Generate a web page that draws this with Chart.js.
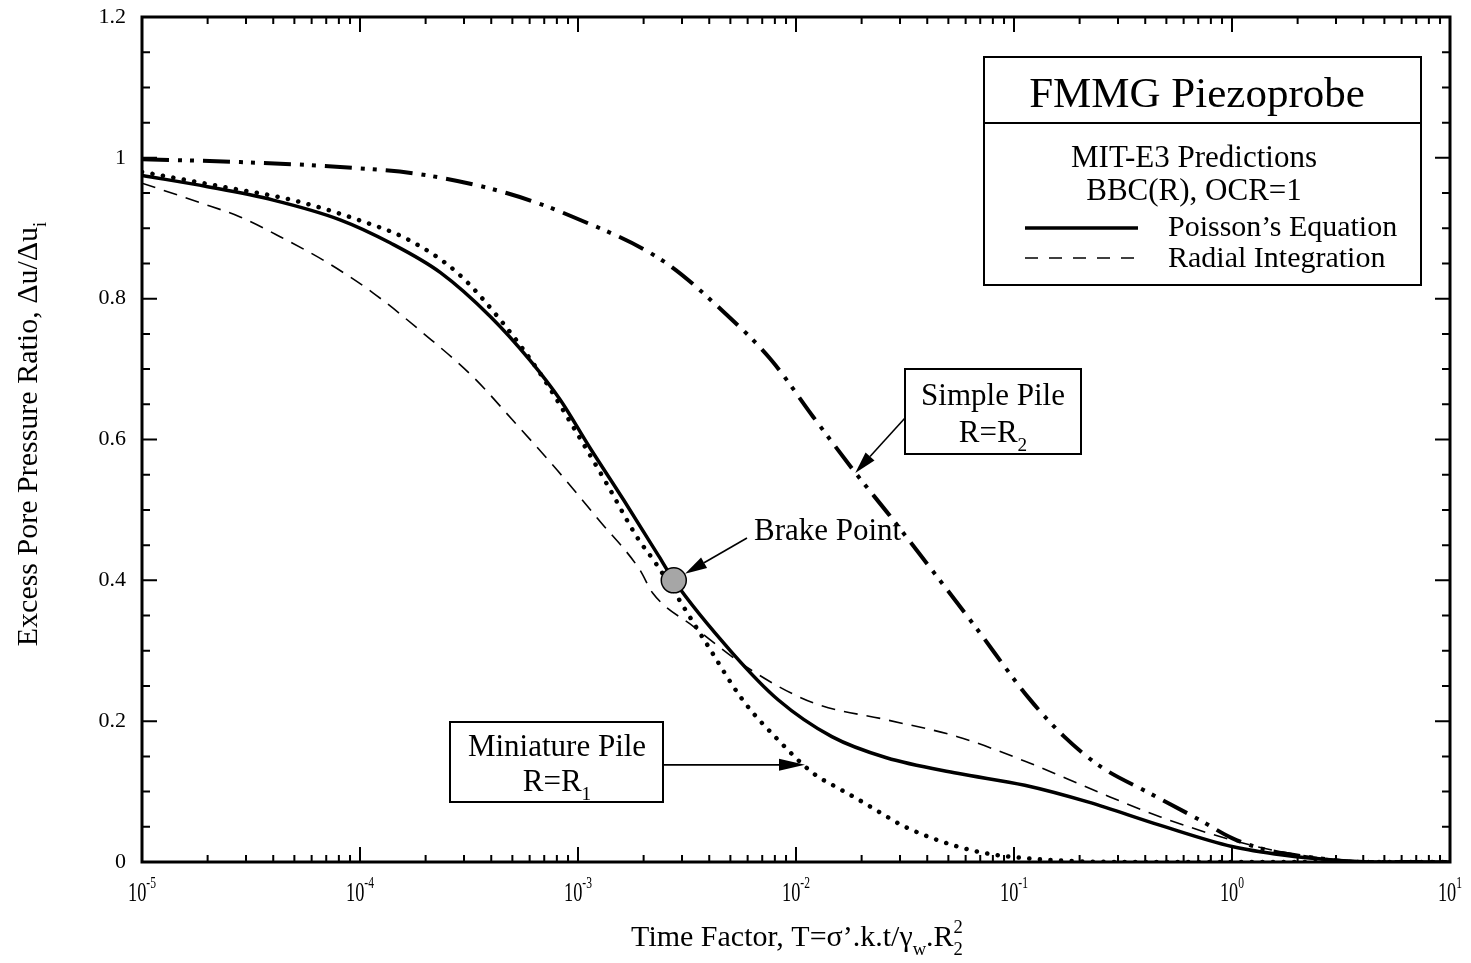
<!DOCTYPE html>
<html>
<head>
<meta charset="utf-8">
<script src="https://cdn.jsdelivr.net/npm/chart.js@4.4.1/dist/chart.umd.min.js"></script>
<style>
  html, body { margin: 0; padding: 0; background: #fff; }
  #wrap { width: 1471px; height: 963px; }
</style>
</head>
<body>
<div id="wrap"><canvas id="c" width="1471" height="963"></canvas></div>
<script>
// Time factor T (x) and excess pore pressure ratio Δu/Δu_i (y) for each curve
const poissonT     = [1e-5, 2.0e-5, 4.0e-5, 8.1e-5, 1.38e-4, 2.34e-4, 3.98e-4, 6.0e-4, 8.3e-4, 1.13e-3, 1.62e-3, 2.34e-3, 2.75e-3, 5.1e-3, 8.3e-3, 1.46e-2, 2.6e-2, 5.5e-2, 0.112, 0.22, 0.47, 1.0, 1.71, 2.9, 4.7, 10];
const poissonRatio = [0.975, 0.959, 0.940, 0.912, 0.879, 0.837, 0.774, 0.713, 0.656, 0.589, 0.514, 0.435, 0.400, 0.297, 0.230, 0.178, 0.148, 0.126, 0.109, 0.085, 0.052, 0.022, 0.010, 0.003, 0, 0];

const radialT      = [1e-5, 1.86e-5, 2.82e-5, 4.3e-5, 7.1e-5, 1.15e-4, 1.95e-4, 3.3e-4, 5.0e-4, 8.0e-4, 1.26e-3, 1.92e-3, 2.2e-3, 3.4e-3, 6.2e-3, 1.2e-2, 2.6e-2, 5.5e-2, 0.117, 0.245, 0.47, 1.0, 1.71, 2.9, 5.0, 10];
const radialRatio  = [0.964, 0.936, 0.916, 0.888, 0.851, 0.808, 0.751, 0.689, 0.628, 0.557, 0.484, 0.415, 0.382, 0.334, 0.273, 0.226, 0.202, 0.178, 0.141, 0.099, 0.064, 0.031, 0.014, 0.004, 0, 0];

const miniatureT     = [1e-5, 2.34e-5, 4.9e-5, 9.8e-5, 1.66e-4, 2.79e-4, 4.4e-4, 6.7e-4, 9.5e-4, 1.35e-3, 1.86e-3, 2.3e-3, 3.8e-3, 5.7e-3, 8.3e-3, 1.2e-2, 1.58e-2, 1.9e-2, 2.5e-2, 3.16e-2, 5.5e-2, 7.9e-2, 0.117, 0.2, 0.32, 10];
const miniatureRatio = [0.980, 0.959, 0.940, 0.912, 0.884, 0.837, 0.770, 0.694, 0.618, 0.538, 0.462, 0.422, 0.315, 0.230, 0.173, 0.126, 0.104, 0.090, 0.068, 0.050, 0.022, 0.011, 0.005, 0.001, 0, 0];

const simpleT      = [1e-5, 2.82e-5, 8.1e-5, 1.95e-4, 4.7e-4, 9.5e-4, 2.5e-3, 4.7e-3, 7.7e-3, 1.2e-2, 1.87e-2, 2.69e-2, 3.72e-2, 6.61e-2, 0.1175, 0.17, 0.251, 0.417, 0.708, 1.0, 1.41, 2.4, 3.98, 10];
const simpleRatio  = [0.998, 0.994, 0.987, 0.976, 0.950, 0.916, 0.852, 0.780, 0.713, 0.632, 0.553, 0.492, 0.436, 0.335, 0.232, 0.178, 0.135, 0.098, 0.060, 0.034, 0.018, 0.006, 0, 0];

// Break point on the Poisson's equation curve, and where the pile call-outs point
const brakeT = [2.75e-3];
const brakeRatio = [0.40];
const simplePileTip = { x: 0.0187, y: 0.5526 };
const miniaturePileTip = { x: 0.011, y: 0.138 };

// Axis ticks and labels
const xDecades   = [1e-5, 1e-4, 1e-3, 1e-2, 1e-1, 1, 10];
const xExponents = ['-5', '-4', '-3', '-2', '-1', '0', '1'];
const yMajorTicks  = [0, 0.2, 0.4, 0.6, 0.8, 1.0, 1.2];
const yTickLabels  = ['0', '0.2', '0.4', '0.6', '0.8', '1', '1.2'];

const SERIF = '"Liberation Serif", "Times New Roman", serif';
const font = s => `${s}px ${SERIF}`;

const xMinorTicks = [];
xDecades.slice(0, -1).forEach(d => { for (let m = 2; m <= 9; m++) xMinorTicks.push(d * m); });
const yMinorTicks = [];
for (let k = 1; k < 24; k++) if (k % 4 !== 0) yMinorTicks.push(k * 0.05);

const pts = (xs, ys) => xs.map((t, i) => ({ x: t, y: ys[i] }));

// Text with subscripts / superscripts: parts = [[text, kind, extra]]
function richText(ctx, parts, x, y, size, align, rotate) {
  const small = size * 0.62;
  const items = parts.map(([t, k, t2]) => {
    ctx.font = font(k === 'n' ? size : small);
    let w = ctx.measureText(t).width;
    if (k === 'subsup') w = Math.max(w, ctx.measureText(t2).width);
    return { t, k, t2, w };
  });
  const total = items.reduce((s, i) => s + i.w, 0);
  ctx.save();
  ctx.translate(x, y);
  if (rotate) ctx.rotate(rotate);
  ctx.textAlign = 'left';
  ctx.textBaseline = 'alphabetic';
  let cx = align === 'center' ? -total / 2 : align === 'right' ? -total : 0;
  items.forEach(i => {
    if (i.k === 'n') { ctx.font = font(size); ctx.fillText(i.t, cx, 0); }
    else {
      ctx.font = font(small);
      if (i.k === 'sub' || i.k === 'subsup') ctx.fillText(i.t, cx, size * 0.3);
      if (i.k === 'sup') ctx.fillText(i.t, cx, -size * 0.42);
      if (i.k === 'subsup') ctx.fillText(i.t2, cx, -size * 0.42);
    }
    cx += i.w;
  });
  ctx.restore();
}

function arrow(ctx, x1, y1, x2, y2, head, half) {
  const ang = Math.atan2(y2 - y1, x2 - x1);
  const bx = x2 - head * Math.cos(ang), by = y2 - head * Math.sin(ang);
  ctx.beginPath();
  ctx.lineWidth = 1.6;
  ctx.moveTo(x1, y1);
  ctx.lineTo(bx, by);
  ctx.stroke();
  ctx.beginPath();
  ctx.moveTo(x2, y2);
  ctx.lineTo(bx + half * Math.sin(ang), by - half * Math.cos(ang));
  ctx.lineTo(bx - half * Math.sin(ang), by + half * Math.cos(ang));
  ctx.closePath();
  ctx.fill();
}

const decorations = {
  id: 'decorations',
  afterDatasetsDraw(chart) {
    const { ctx, chartArea: a, scales: { x, y } } = chart;
    ctx.save();
    ctx.strokeStyle = '#000';
    ctx.fillStyle = '#000';

    // inward ticks on all four sides
    ctx.lineWidth = 2;
    ctx.beginPath();
    const xt = (v, len) => {
      const p = x.getPixelForValue(v);
      ctx.moveTo(p, a.bottom); ctx.lineTo(p, a.bottom - len);
      ctx.moveTo(p, a.top); ctx.lineTo(p, a.top + len);
    };
    const yt = (v, len) => {
      const p = y.getPixelForValue(v);
      ctx.moveTo(a.left, p); ctx.lineTo(a.left + len, p);
      ctx.moveTo(a.right, p); ctx.lineTo(a.right - len, p);
    };
    xMinorTicks.forEach(v => xt(v, 7));
    xDecades.forEach(v => xt(v, 15));
    yMinorTicks.forEach(v => yt(v, 8));
    yMajorTicks.forEach(v => yt(v, 15));
    ctx.stroke();

    // frame
    ctx.lineWidth = 3;
    ctx.strokeRect(a.left, a.top, a.width, a.height);

    // x tick labels: 10 with exponent
    xDecades.forEach((v, i) => {
      const p = x.getPixelForValue(v);
      const sx = 0.68;
      ctx.font = font(27);
      const w10 = ctx.measureText('10').width * sx;
      ctx.font = font(17);
      const we = ctx.measureText(xExponents[i]).width * sx;
      const start = p - (w10 + we) / 2;
      ctx.save();
      ctx.translate(start, a.bottom + 39);
      ctx.scale(sx, 1);
      ctx.textAlign = 'left';
      ctx.textBaseline = 'alphabetic';
      ctx.font = font(27);
      ctx.fillText('10', 0, 0);
      ctx.font = font(17);
      ctx.fillText(xExponents[i], w10 / sx, -13);
      ctx.restore();
    });

    // axis titles
    richText(ctx, [['Time Factor, T=σ’.k.t/γ', 'n'], ['w', 'sub'], ['.R', 'n'], ['2', 'subsup', '2']],
      (a.left + a.right) / 2 + 1, 946, 30, 'center');
    richText(ctx, [['Excess Pore Pressure Ratio, Δu/Δu', 'n'], ['i', 'sub']],
      37, 434, 30, 'center', -Math.PI / 2);

    // call-out: simple pile
    ctx.lineWidth = 2;
    ctx.strokeRect(905, 369, 176, 85);
    ctx.font = font(31);
    ctx.textAlign = 'center';
    ctx.fillText('Simple Pile', 993, 405);
    richText(ctx, [['R=R', 'n'], ['2', 'sub']], 993, 442, 31, 'center');
    arrow(ctx, 905, 418, x.getPixelForValue(simplePileTip.x), y.getPixelForValue(simplePileTip.y), 22, 6);

    // call-out: miniature pile
    ctx.lineWidth = 2;
    ctx.strokeRect(450, 722, 213, 80);
    ctx.font = font(31);
    ctx.textAlign = 'center';
    ctx.fillText('Miniature Pile', 557, 756);
    richText(ctx, [['R=R', 'n'], ['1', 'sub']], 557, 791, 31, 'center');
    const my = y.getPixelForValue(miniaturePileTip.y);
    arrow(ctx, 663, my, x.getPixelForValue(miniaturePileTip.x), my, 26, 6);

    // call-out: break point
    ctx.font = font(31);
    ctx.textAlign = 'left';
    ctx.fillText('Brake Point', 754, 540);
    const bx = x.getPixelForValue(brakeT[0]), by = y.getPixelForValue(brakeRatio[0]);
    const sx0 = 747, sy0 = 538;
    const d = Math.hypot(sx0 - bx, sy0 - by);
    arrow(ctx, sx0, sy0, bx + (sx0 - bx) / d * 13, by + (sy0 - by) / d * 13, 22, 6);

    // legend box
    ctx.lineWidth = 2;
    ctx.strokeRect(984, 57, 437, 228);
    ctx.beginPath();
    ctx.moveTo(984, 123); ctx.lineTo(1421, 123);
    ctx.stroke();
    ctx.textAlign = 'center';
    ctx.font = font(43);
    ctx.fillText('FMMG Piezoprobe', 1197, 107);
    ctx.font = font(31);
    ctx.fillText('MIT-E3 Predictions', 1194, 167);
    ctx.fillText('BBC(R), OCR=1', 1194, 200);
    ctx.textAlign = 'left';
    ctx.font = font(30);
    ctx.fillText('Poisson’s Equation', 1168, 236);
    ctx.fillText('Radial Integration', 1168, 267);
    ctx.lineWidth = 3.5;
    ctx.beginPath();
    ctx.moveTo(1025, 228); ctx.lineTo(1138, 228);
    ctx.stroke();
    ctx.lineWidth = 1.6;
    ctx.setLineDash([13, 11]);
    ctx.beginPath();
    ctx.moveTo(1025, 258); ctx.lineTo(1142, 258);
    ctx.stroke();
    ctx.setLineDash([]);

    ctx.restore();
  }
};

const common = { pointRadius: 0, fill: false, borderColor: '#000', cubicInterpolationMode: 'monotone' };

new Chart(document.getElementById('c'), {
  type: 'line',
  data: {
    datasets: [
      {
        label: 'Brake Point', data: pts(brakeT, brakeRatio), showLine: false, order: 0,
        pointRadius: 12.5, pointBackgroundColor: '#a6a6a6', pointBorderColor: '#000', pointBorderWidth: 1.5
      },
      Object.assign({ label: 'Poisson’s Equation', data: pts(poissonT, poissonRatio), borderWidth: 3.5, order: 1 }, common),
      Object.assign({ label: 'Radial Integration', data: pts(radialT, radialRatio), borderWidth: 1.6, borderDash: [14, 9], order: 2 }, common),
      Object.assign({ label: 'Miniature Pile R=R1', data: pts(miniatureT, miniatureRatio), borderWidth: 4.5, borderDash: [0.1, 10.5], borderCapStyle: 'round', order: 3 }, common),
      Object.assign({ label: 'Simple Pile R=R2', data: pts(simpleT, simpleRatio), borderWidth: 4, borderDash: [27, 9, 4, 8, 4, 9], order: 4 }, common)
    ]
  },
  options: {
    responsive: false,
    animation: false,
    events: [],
    layout: { padding: { top: 17, right: 21, left: 0, bottom: 0 } },
    scales: {
      x: {
        type: 'logarithmic', min: 1e-5, max: 10,
        grid: { display: false, drawTicks: false }, border: { display: false },
        ticks: { display: false },
        afterFit(s) { s.height = 963 - 862; s.paddingLeft = 0; s.paddingRight = 0; }
      },
      y: {
        type: 'linear', min: 0, max: 1.2,
        grid: { display: false, drawTicks: false }, border: { display: false },
        afterBuildTicks(s) { s.ticks = yMajorTicks.map(v => ({ value: v })); },
        ticks: {
          color: '#000', padding: 16, font: { family: SERIF, size: 22 },
          callback: (v, i) => yTickLabels[i]
        },
        afterFit(s) { s.width = 142; s.paddingTop = 0; s.paddingBottom = 0; }
      }
    },
    plugins: { legend: { display: false }, tooltip: { enabled: false } }
  },
  plugins: [decorations]
});
</script>
</body>
</html>
